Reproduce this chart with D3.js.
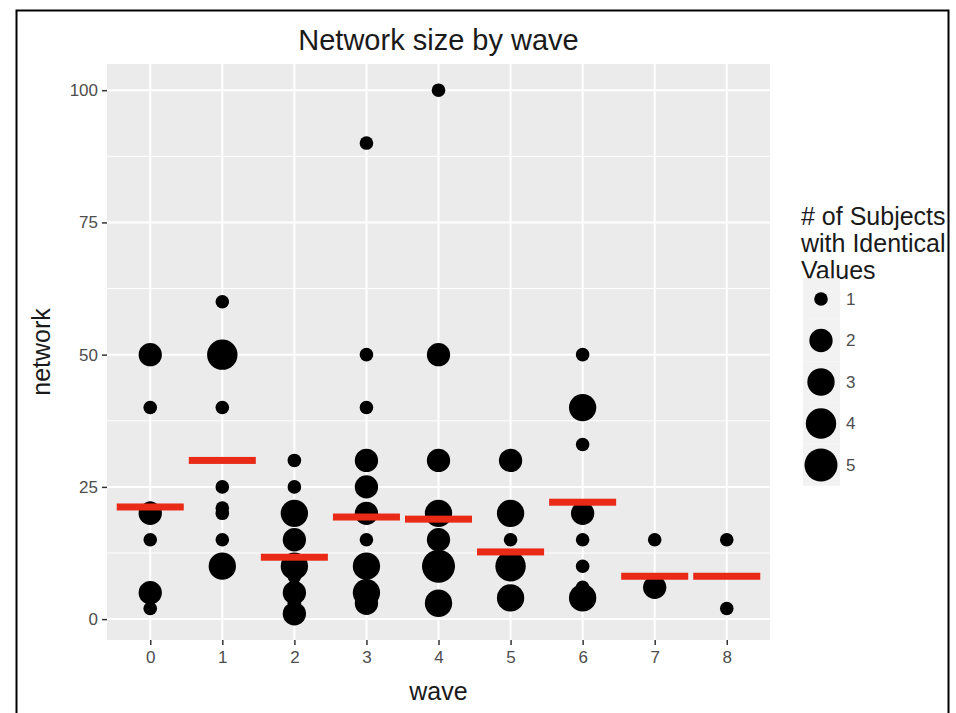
<!DOCTYPE html>
<html>
<head>
<meta charset="utf-8">
<script src="https://cdn.jsdelivr.net/npm/d3@7"></script>
<style>
  html, body { margin: 0; padding: 0; background: #fff; }
  svg { display: block; font-family: "Liberation Sans", Arial, sans-serif; }
</style>
</head>
<body>
<svg id="chart" width="956" height="713"></svg>
<script>
// ---- data ----
const waves = ["0", "1", "2", "3", "4", "5", "6", "7", "8"];
const pointWave  = ["0","0","0","0","0","0","0",
                    "1","1","1","1","1","1","1","1","1",
                    "2","2","2","2","2","2","2","2","2",
                    "3","3","3","3","3","3","3","3","3","3",
                    "4","4","4","4","4","4","4",
                    "5","5","5","5","5",
                    "6","6","6","6","6","6","6","6",
                    "7","7",
                    "8","8"];
const pointValue = [50,40,21,20,15,5,2,
                    60,50,40,25,21,20,15,10,9,
                    30,25,20,15,10,8,5,3,1,
                    90,50,40,30,25,20,15,10,5,3,
                    100,50,30,20,15,10,3,
                    30,20,15,10,4,
                    50,40,33,20,15,10,6,4,
                    15,6,
                    15,2];
const pointCount = [2,1,1,2,1,2,1,
                    1,4,1,1,1,1,1,3,1,
                    1,1,3,2,3,1,2,1,2,
                    1,1,1,2,2,2,1,3,3,2,
                    1,2,2,3,2,5,3,
                    2,3,1,4,3,
                    1,3,1,2,1,1,1,3,
                    1,2,
                    1,1];
const meanValues = [21.2, 30.0, 11.7, 19.3, 18.9, 12.7, 22.1, 8.1, 8.1];
const yTicks = [0, 25, 50, 75, 100];
const yMinor = [12.5, 37.5, 62.5, 87.5];
const legendCounts = [1, 2, 3, 4, 5];
const titleText = "Network size by wave";
const xTitle = "wave";
const yTitle = "network";
const legendTitle = ["# of Subjects", "with Identical", "Values"];

// ---- layout ----
const svg = d3.select("#chart");
const panel = { left: 107, right: 770, top: 64, bottom: 640 };

const x = d3.scalePoint().domain(waves)
  .range([panel.left, panel.right]).padding(0.6);
const y = d3.scaleLinear().domain([-3.95, 104.95])
  .range([panel.bottom, panel.top]);
const sizeT = d3.scaleSqrt().domain([0, 4]).range([0, 1]);
const rScale = d3.scaleLinear().domain([0, 1]).range([6.8, 16.5]);
const radius = n => rScale(sizeT(n - 1));

// outer frame
svg.append("rect").attr("x", 16.5).attr("y", 10.5).attr("width", 932).attr("height", 730)
  .attr("fill", "none").attr("stroke", "#000").attr("stroke-width", 2);

// panel background
svg.append("rect").attr("x", panel.left).attr("y", panel.top)
  .attr("width", panel.right - panel.left).attr("height", panel.bottom - panel.top)
  .attr("fill", "#ebebeb");

// grid
const g = svg.append("g");
g.selectAll(".ymin").data(yMinor).join("line")
  .attr("x1", panel.left).attr("x2", panel.right)
  .attr("y1", d => y(d)).attr("y2", d => y(d))
  .attr("stroke", "#fff").attr("stroke-width", 1);
g.selectAll(".ymaj").data(yTicks).join("line")
  .attr("x1", panel.left).attr("x2", panel.right)
  .attr("y1", d => y(d)).attr("y2", d => y(d))
  .attr("stroke", "#fff").attr("stroke-width", 2);
g.selectAll(".xmaj").data(waves).join("line")
  .attr("y1", panel.top).attr("y2", panel.bottom)
  .attr("x1", d => x(d)).attr("x2", d => x(d))
  .attr("stroke", "#fff").attr("stroke-width", 2);

// axes
const xAxis = d3.axisBottom(x).tickSize(5).tickPadding(6);
const yAxis = d3.axisLeft(y).tickValues(yTicks).tickSize(5).tickPadding(4);
const xg = svg.append("g").attr("transform", `translate(0,${panel.bottom})`).call(xAxis);
const yg = svg.append("g").attr("transform", `translate(${panel.left},0)`).call(yAxis);
[xg, yg].forEach(a => {
  a.select(".domain").remove();
  a.selectAll(".tick line").attr("stroke", "#333").attr("stroke-width", 1.5);
  a.selectAll(".tick text").attr("fill", "#4d4d4d")
    .style("font-size", "17px").style("font-family", "Liberation Sans, Arial, sans-serif");
});

// points
const points = pointValue.map((v, i) => ({ wave: pointWave[i], value: v, n: pointCount[i] }));
svg.append("g").selectAll("circle").data(points).join("circle")
  .attr("cx", d => x(d.wave)).attr("cy", d => y(d.value))
  .attr("r", d => radius(d.n)).attr("fill", "#000");

// mean bars
const barW = x.step() * 0.93;
svg.append("g").selectAll("rect").data(waves).join("rect")
  .attr("x", d => x(d) - barW / 2).attr("width", barW)
  .attr("y", (d, i) => y(meanValues[i]) - 3.5).attr("height", 7)
  .attr("fill", "#e82a17");

// titles
svg.append("text").attr("x", (panel.left + panel.right) / 2).attr("y", 50)
  .attr("text-anchor", "middle").attr("fill", "#1a1a1a")
  .style("font-size", "29px").text(titleText);
svg.append("text").attr("x", (panel.left + panel.right) / 2).attr("y", 700)
  .attr("text-anchor", "middle").attr("fill", "#1a1a1a")
  .style("font-size", "25px").text(xTitle);
svg.append("text").attr("transform", `translate(50,${(panel.top + panel.bottom) / 2}) rotate(-90)`)
  .attr("text-anchor", "middle").attr("fill", "#1a1a1a")
  .style("font-size", "25px").text(yTitle);

// legend
const lg = svg.append("g");
lg.selectAll("text.lt").data(legendTitle).join("text")
  .attr("x", 801).attr("y", (d, i) => 225 + i * 27)
  .attr("fill", "#1a1a1a").style("font-size", "25px").text(d => d);
const ky = d3.scalePoint().domain(legendCounts).range([299, 465]);
const keyH = ky.step();
lg.selectAll("rect.key").data(legendCounts).join("rect")
  .attr("x", 803).attr("width", 37)
  .attr("y", d => ky(d) - keyH / 2).attr("height", keyH)
  .attr("fill", "#f2f2f2");
lg.selectAll("circle").data(legendCounts).join("circle")
  .attr("cx", 821).attr("cy", d => ky(d)).attr("r", d => radius(d)).attr("fill", "#000");
lg.selectAll("text.kl").data(legendCounts).join("text")
  .attr("x", 846).attr("y", d => ky(d)).attr("dy", "0.35em")
  .attr("fill", "#4d4d4d").style("font-size", "17px").text(d => d);
</script>
</body>
</html>
